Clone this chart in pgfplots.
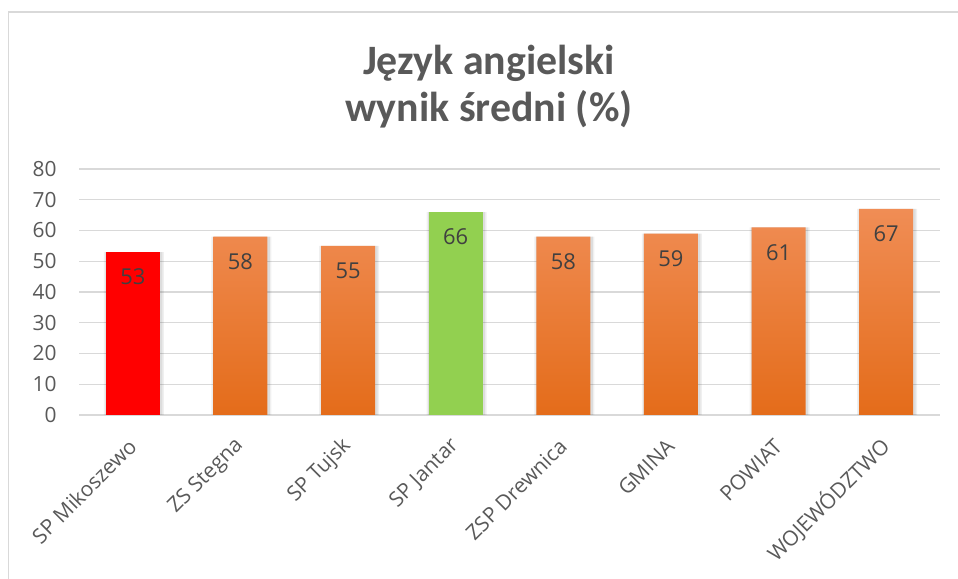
\documentclass[border=0pt]{standalone}
\usepackage{pgfplots}
\pgfplotsset{compat=1.18}
\usepackage{fontspec}
\setmainfont{Open Sans}
\newfontfamily\titlefont{Carlito}
\definecolor{txt}{HTML}{595959}
\definecolor{lbl}{HTML}{404040}
\definecolor{gridc}{HTML}{D9D9D9}
\definecolor{orT}{HTML}{F08D55}
\definecolor{orM}{HTML}{F4832F}
\definecolor{orB}{HTML}{E46C1A}
\definecolor{redb}{HTML}{FF0000}
\definecolor{greenb}{HTML}{92D050}
\pgfplotstableread{
x y
0 53
1 58
2 55
3 66
4 58
5 59
6 61
7 67
}\alldata
\begin{document}
\begin{tikzpicture}[x=1bp,y=1bp]
\useasboundingbox (0,0) rectangle (958,579);
\draw[draw=gridc, line width=1.2bp] (8.5,0) -- (8.5,567) -- (958,567);
\node[anchor=base, font=\titlefont\bfseries\fontsize{42}{44}\selectfont, text=txt, inner sep=0pt] at (489,504) {Język angielski};
\node[anchor=base, font=\titlefont\bfseries\fontsize{42}{44}\selectfont, text=txt, inner sep=0pt] at (489,457) {wynik średni (\%)};
\begin{axis}[
  at={(79bp,164bp)}, anchor=south west,
  scale only axis, width=861bp, height=246bp,
  xmin=-0.5, xmax=7.5, ymin=0, ymax=80,
  enlargelimits=false,
  axis line style={draw=none},
  tick style={draw=none},
  ytick={0,10,...,80},
  ymajorgrids,
  grid style={draw=gridc, line width=1.3bp},
  xtick={0,...,7},
  xticklabels={SP Mikoszewo, ZS Stegna, SP Tujsk, SP Jantar, ZSP Drewnica, GMINA, POWIAT, WOJEWÓDZTWO},
  xticklabel style={rotate=45, anchor=east, xshift=-13.4bp, yshift=-16.3bp, font=\fontsize{21}{24}\selectfont, text=txt},
  yticklabel style={xshift=-19bp, font=\fontsize{21}{24}\selectfont, text=txt},
  /pgf/number format/assume math mode=true,
  ybar, bar width=54bp, bar shift=0pt,
  nodes near coords style={anchor=center, yshift=-25bp, font=\fontsize{22}{24}\selectfont, text=lbl},
  clip=false,
]
% soft shadow behind bars
\addplot[draw=none, fill=black, fill opacity=0.06, bar width=60bp, bar shift=1bp] table[x=x,y=y] {\alldata};
\addplot[draw=none, fill=black, fill opacity=0.08, bar width=57bp, bar shift=1bp] table[x=x,y=y] {\alldata};
\addplot[draw=none, fill=redb, nodes near coords] coordinates {(0,53)};
\addplot[draw=none, top color=orT, middle color=orM, bottom color=orB, nodes near coords] coordinates {(1,58) (2,55) (4,58) (5,59) (6,61) (7,67)};
\addplot[draw=none, fill=greenb, nodes near coords] coordinates {(3,66)};
\end{axis}
\end{tikzpicture}
\end{document}
